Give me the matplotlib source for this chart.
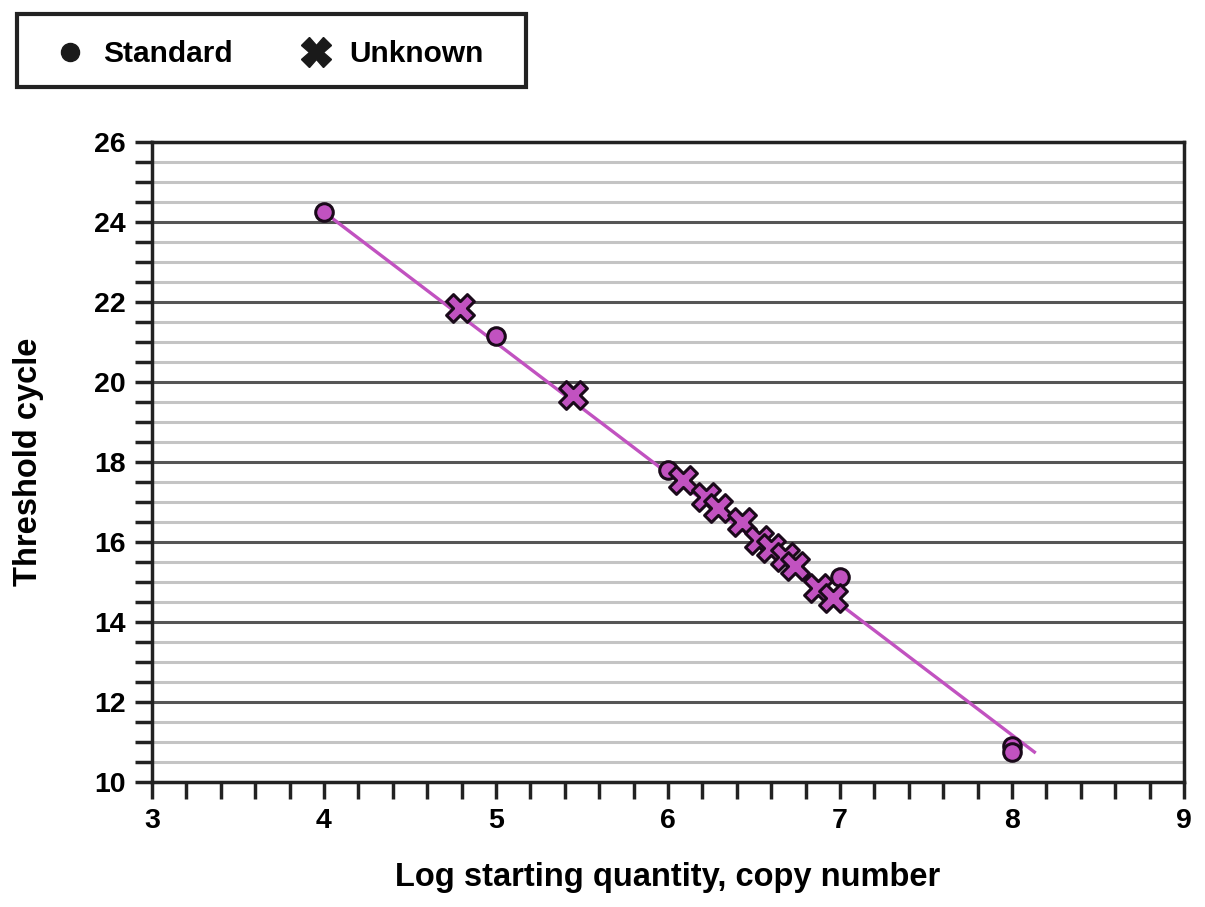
import matplotlib
matplotlib.use("Agg")
import matplotlib.pyplot as plt
from matplotlib.ticker import MultipleLocator
from matplotlib.lines import Line2D
from matplotlib.patches import Rectangle

plt.rcParams['font.family'] = ['Liberation Sans', 'DejaVu Sans']
plt.rcParams['font.weight'] = 'bold'

std_x = [4.0, 5.0, 6.0, 7.0, 8.0, 8.0]
std_y = [24.25, 21.15, 17.8, 15.13, 10.9, 10.75]
unk_x = [4.79, 5.45, 6.09, 6.22, 6.29, 6.43, 6.53, 6.60, 6.68, 6.74, 6.87, 6.96]
unk_y = [21.85, 19.68, 17.55, 17.13, 16.85, 16.5, 16.05, 15.85, 15.63, 15.4, 14.85, 14.6]
fit_x = [4.0, 8.13]
fit_y = [24.25, 10.75]

color = '#c152c0'

fig = plt.figure(figsize=(12.05, 9.07), dpi=100)
ax = fig.add_axes([0.1261, 0.1378, 0.8565, 0.7056])

ax.set_xlim(3, 9)
ax.set_ylim(10, 26)
ax.yaxis.set_major_locator(MultipleLocator(2))
ax.yaxis.set_minor_locator(MultipleLocator(0.5))
ax.xaxis.set_major_locator(MultipleLocator(1))
ax.xaxis.set_minor_locator(MultipleLocator(0.2))

ax.grid(axis='y', which='minor', color='#c4c4c4', linewidth=2.2)
ax.grid(axis='y', which='major', color='#555555', linewidth=2.2)
ax.set_axisbelow(True)

ax.plot(fit_x, fit_y, color=color, linewidth=2.4, zorder=3)
ax.scatter(std_x, std_y, s=160, marker='o', facecolor=color, edgecolor='#1a0a1a', linewidth=2.2, zorder=4)
ax.scatter(unk_x, unk_y, s=400, marker='X', facecolor=color, edgecolor='#1a0a1a', linewidth=2.2, zorder=5)

for sp in ax.spines.values():
    sp.set_linewidth(2.5)
    sp.set_color('#222222')

ax.tick_params(axis='both', which='major', length=12, width=2.5, labelsize=20.5, color='#222222', pad=7)
ax.tick_params(axis='both', which='minor', length=12, width=2.5, color='#222222')
ax.tick_params(axis='y', which='both', right=False)
for lbl in ax.get_xticklabels() + ax.get_yticklabels():
    lbl.set_fontweight('bold')

ax.set_xlabel('Log starting quantity, copy number', fontsize=23.5, fontweight='bold', labelpad=20)
ax.set_ylabel('Threshold cycle', fontsize=23.5, fontweight='bold', labelpad=36)

# legend box
fig.add_artist(Rectangle((17 / 1205, 1 - 87 / 907), 509 / 1205, 73 / 907,
                         transform=fig.transFigure, facecolor='white',
                         edgecolor='#222222', linewidth=3))
handles = [
    Line2D([], [], marker='o', linestyle='none', color='#1a1a1a', markersize=13),
    Line2D([], [], marker='X', linestyle='none', color='#1a1a1a', markersize=21),
]
leg = fig.legend(handles, ['Standard', 'Unknown'], loc='center left',
                 bbox_to_anchor=(55 / 1205, 1 - 54 / 907),
                 ncol=2, frameon=False, prop={'size': 21.5, 'weight': 'bold'},
                 handlelength=1.0, handletextpad=0.6, columnspacing=2.3,
                 borderaxespad=0.0, borderpad=0.0)

fig.savefig('out.png', dpi=100)
